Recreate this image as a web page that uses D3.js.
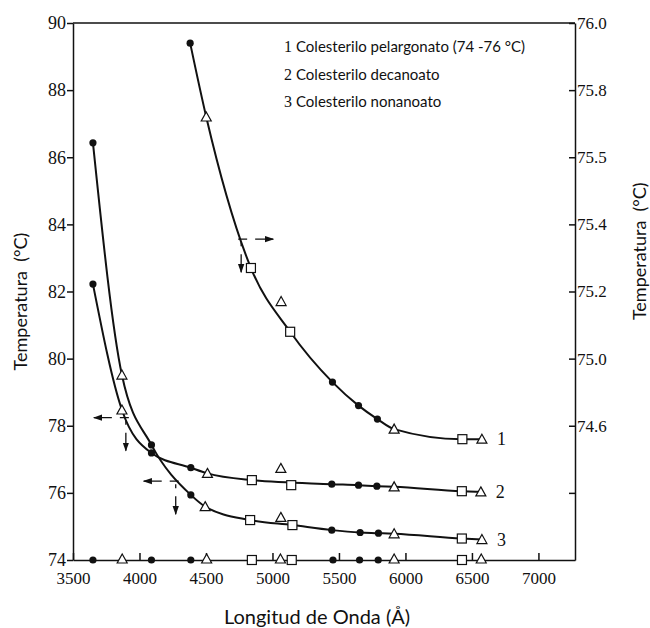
<!DOCTYPE html>
<html>
<head>
<meta charset="utf-8">
<script src="https://cdn.jsdelivr.net/npm/d3@7"></script>
<style>
  body { margin: 0; background: #fff; }
  svg { display: block; }
  text { white-space: pre; }
</style>
</head>
<body>
<script>
// values
// each point: [wavelength (Å), temperature (°C), marker, lies on the drawn curve]
// curve 1 is read on the right axis, curves 2 and 3 on the left axis
var curve1 = [
    [4381, 75.94, "c", true],
    [4502, 75.72, "t", true],
    [4838, 75.27, "s", true],
    [5065, 75.17, "t", false],
    [5133, 75.08, "s", true],
    [5451, 74.93, "c", true],
    [5647, 74.86, "c", true],
    [5789, 74.82, "c", true],
    [5915, 74.79, "t", true],
    [6428, 74.76, "s", true],
    [6575, 74.76, "t", true]
];
var curve2 = [
    [3650, 82.22, "c", true],
    [3868, 78.47, "t", true],
    [4090, 77.19, "c", true],
    [4386, 76.75, "c", true],
    [4511, 76.58, "t", true],
    [4845, 76.38, "s", true],
    [5063, 76.73, "t", false],
    [5141, 76.23, "s", false],
    [5446, 76.26, "c", true],
    [5647, 76.23, "c", true],
    [5785, 76.20, "c", true],
    [5915, 76.18, "t", true],
    [6424, 76.05, "s", true],
    [6567, 76.03, "t", true]
];
var curve3 = [
    [3650, 86.43, "c", true],
    [3868, 79.51, "t", true],
    [4090, 77.43, "c", true],
    [4386, 75.94, "c", true],
    [4494, 75.59, "t", true],
    [4832, 75.19, "s", true],
    [5063, 75.27, "t", false],
    [5150, 75.04, "s", true],
    [5446, 74.89, "c", true],
    [5659, 74.82, "c", true],
    [5797, 74.80, "c", true],
    [5915, 74.78, "t", true],
    [6424, 74.64, "s", true],
    [6575, 74.61, "t", true]
];

// measuring wavelengths marked along the bottom axis
var circleWaves = [3650, 4090, 4386, 5455, 5655, 5795];
var triangleWaves = [3870, 4505, 5060, 5915, 6570];
var squareWaves = [4845, 5145, 6425];

// reading arrows: [wavelength, temperature, axis side]
var arrows = [
    [4757, 75.356, "right"],
    [3905, 78.24, "left"],
    [4280, 76.35, "left"]
];

var xTicks = [3500, 4000, 4500, 5000, 5500, 6000, 6500, 7000];
var leftTicks = [74, 76, 78, 80, 82, 84, 86, 88, 90];
var rightTicks = [76.0, 75.8, 75.6, 75.4, 75.2, 75.0, 74.8, 74.6];
var rightLabels = ["76.0", "75.8", "75.5", "75.4", "75.2", "75.0", "74.6", ""];

var legendNums = ["1", "2", "3"];
var legendNames = ["Colesterilo pelargonato (74 -76 °C)", "Colesterilo decanoato", "Colesterilo nonanoato"];

// canvas
var margin = { top: 23, right: 75, bottom: 68, left: 73 },
    width = 650 - margin.left - margin.right,
    height = 628 - margin.top - margin.bottom;

var x = d3.scaleLinear().domain([3500, 7275]).range([0, width]);
var y = d3.scaleLinear().domain([74, 90]).range([height, 0]);
var y2 = d3.scaleLinear().domain([74.4, 76.0]).range([height, 0]);

var serif = "'Liberation Serif', 'DejaVu Serif', serif";
var sans = "Lato, 'Open Sans', sans-serif";
var ink = "#111";

var svg = d3.select("body").append("svg")
    .attr("width", 650)
    .attr("height", 628);

var g = svg.append("g")
    .attr("transform", "translate(" + margin.left + "," + margin.top + ")");

// arrow head
svg.append("defs").append("marker")
    .attr("id", "head")
    .attr("viewBox", "0 0 10 10")
    .attr("refX", 9).attr("refY", 5)
    .attr("markerWidth", 7).attr("markerHeight", 7)
    .attr("orient", "auto")
    .append("path")
    .attr("d", "M0,1.5L10,5L0,8.5Z")
    .attr("fill", ink);

// axes
var xAxis = g.append("g")
    .attr("transform", "translate(0," + height + ")")
    .call(d3.axisBottom(x).tickValues(xTicks).tickSizeInner(-7).tickSizeOuter(0).tickPadding(12)
        .tickFormat(d3.format("d")));

var yAxis = g.append("g")
    .call(d3.axisLeft(y).tickValues(leftTicks).tickSizeInner(6).tickSizeOuter(0).tickPadding(1));

var y2Axis = g.append("g")
    .attr("transform", "translate(" + width + ",0)")
    .call(d3.axisRight(y2).tickValues(rightTicks).tickSizeInner(-6).tickSizeOuter(0).tickPadding(2)
        .tickFormat(function (d, i) { return rightLabels[i]; }));

[xAxis, yAxis, y2Axis].forEach(function (a) {
    a.selectAll("path, line").attr("stroke", ink).attr("stroke-width", 1.5);
    a.selectAll("text").attr("fill", ink).style("font-family", serif).style("font-size", "17px");
});
yAxis.selectAll("text").style("font-size", "18px");

// top border
g.append("line")
    .attr("x1", 0).attr("x2", width)
    .attr("y1", 0).attr("y2", 0)
    .attr("stroke", ink).attr("stroke-width", 1.5);

// axis titles
svg.append("text")
    .attr("transform", "translate(27," + (margin.top + y(81.7)) + ") rotate(-90)")
    .attr("text-anchor", "middle")
    .style("font-family", sans).style("font-size", "18px").attr("fill", ink)
    .text("Temperatura  (°C)");

svg.append("text")
    .attr("transform", "translate(646," + (margin.top + y(83.2)) + ") rotate(-90)")
    .attr("text-anchor", "middle")
    .style("font-family", sans).style("font-size", "18px").attr("fill", ink)
    .text("Temperatura  (°C)");

svg.append("text")
    .attr("x", margin.left + x(5335))
    .attr("y", 624)
    .attr("text-anchor", "middle")
    .style("font-family", sans).style("font-size", "20px").attr("fill", ink)
    .text("Longitud de Onda (Å)");

// curves
var lineLeft = d3.line()
    .x(function (d) { return x(d[0]); })
    .y(function (d) { return y(d[1]); })
    .curve(d3.curveMonotoneX);

var lineRight = d3.line()
    .x(function (d) { return x(d[0]); })
    .y(function (d) { return y2(d[1]); })
    .curve(d3.curveMonotoneX);

var allCurves = [
    { pts: curve1, yy: y2, line: lineRight },
    { pts: curve2, yy: y, line: lineLeft },
    { pts: curve3, yy: y, line: lineLeft }
];

allCurves.forEach(function (c) {
    g.append("path")
        .datum(c.pts.filter(function (d) { return d[3]; }))
        .attr("fill", "none")
        .attr("stroke", ink)
        .attr("stroke-width", 2)
        .attr("d", c.line);
});

function marker(shape, px, py) {
    if (shape === "c") {
        g.append("circle").attr("cx", px).attr("cy", py).attr("r", 3.6).attr("fill", ink);
    } else if (shape === "t") {
        g.append("path")
            .attr("d", "M" + px + "," + (py - 5) + "L" + (px + 5) + "," + (py + 4) + "L" + (px - 5) + "," + (py + 4) + "Z")
            .attr("fill", "#fff").attr("stroke", ink).attr("stroke-width", 1.2);
    } else {
        g.append("rect").attr("x", px - 4.5).attr("y", py - 4.5).attr("width", 9).attr("height", 9)
            .attr("fill", "#fff").attr("stroke", ink).attr("stroke-width", 1.2);
    }
}

allCurves.forEach(function (c) {
    c.pts.forEach(function (d) { marker(d[2], x(d[0]), c.yy(d[1])); });
});

circleWaves.forEach(function (w) { marker("c", x(w), y(74)); });
triangleWaves.forEach(function (w) { marker("t", x(w), y(74) - 1); });
squareWaves.forEach(function (w) { marker("s", x(w), y(74)); });

// curve numbers at the right end
allCurves.forEach(function (c, i) {
    var last = c.pts[c.pts.length - 1];
    g.append("text")
        .attr("x", x(last[0]) + 15)
        .attr("y", c.yy(last[1]) + 6)
        .style("font-family", serif).style("font-size", "18px").attr("fill", ink)
        .text(legendNums[i]);
});

// reading arrows
arrows.forEach(function (a) {
    var px = x(a[0]);
    var py = a[2] === "right" ? y2(a[1]) : y(a[1]);
    var s = a[2] === "right" ? 1 : -1;
    g.append("path")
        .attr("d", "M" + (px - s * 2) + "," + py + "H" + (px + s * 33))
        .attr("stroke", ink).attr("stroke-width", 1.3).attr("fill", "none")
        .attr("stroke-dasharray", "9 8 40")
        .attr("marker-end", "url(#head)");
    g.append("path")
        .attr("d", "M" + (px + s * 1) + "," + (py + 3) + "V" + (py + 33))
        .attr("stroke", ink).attr("stroke-width", 1.3).attr("fill", "none")
        .attr("stroke-dasharray", "4 8 40")
        .attr("marker-end", "url(#head)");
});

// legend
legendNames.forEach(function (name, i) {
    var t = svg.append("text")
        .attr("x", 284)
        .attr("y", 52 + i * 27.5)
        .attr("fill", ink);
    t.append("tspan").style("font-family", serif).style("font-size", "16px").text(legendNums[i] + " ");
    t.append("tspan").style("font-family", sans).style("font-size", "15px").text(name);
});
</script>
</body>
</html>
